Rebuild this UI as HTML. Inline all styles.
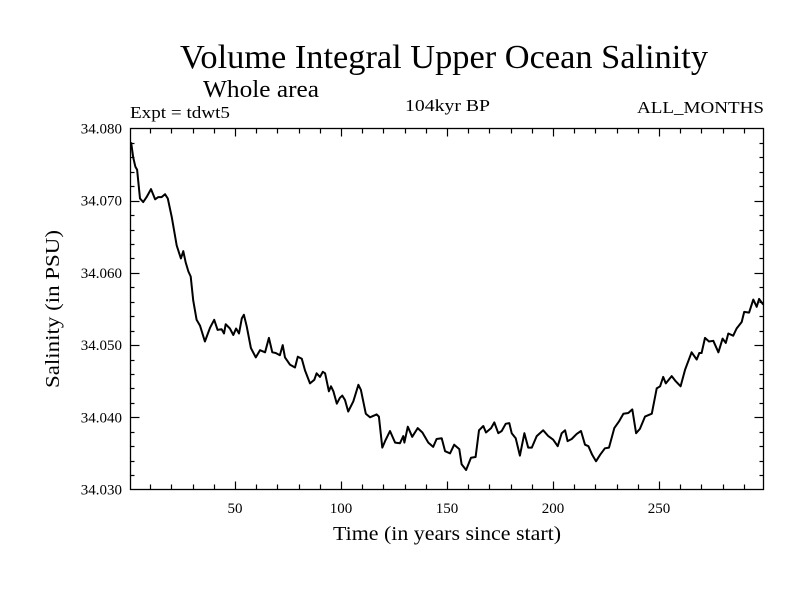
<!DOCTYPE html>
<html><head><meta charset="utf-8"><style>
body{margin:0;background:#fff}
svg text{font-family:"Liberation Serif",serif;fill:#000}
</style></head><body>
<svg id="chart" width="800" height="600" xmlns="http://www.w3.org/2000/svg">
<rect width="800" height="600" fill="#fff"/>
<text x="180" y="68" font-size="34" textLength="528" lengthAdjust="spacingAndGlyphs">Volume Integral Upper Ocean Salinity</text>
<text x="203" y="97" font-size="24" textLength="116" lengthAdjust="spacingAndGlyphs">Whole area</text>
<text x="130" y="118" font-size="17" textLength="100" lengthAdjust="spacingAndGlyphs">Expt = tdwt5</text>
<text x="405" y="111" font-size="17" textLength="85" lengthAdjust="spacingAndGlyphs">104kyr BP</text>
<text x="637" y="113" font-size="17" textLength="127" lengthAdjust="spacingAndGlyphs">ALL_MONTHS</text>
<text x="333" y="540" font-size="20" textLength="228" lengthAdjust="spacingAndGlyphs">Time (in years since start)</text>
<text x="0" y="0" font-size="20" text-anchor="middle" textLength="158" lengthAdjust="spacingAndGlyphs" transform="translate(59,309) rotate(-90)">Salinity (in PSU)</text>
<g id="ticks"></g>
<g id="labels"></g>
<path id="line" fill="none" stroke="#000" stroke-width="2" stroke-linejoin="round"/>
<rect x="130.5" y="128.5" width="633" height="361" fill="none" stroke="#000" stroke-width="1.3"/>
</svg>
<script>
const years=[1,2,3,3.8,5.2,6.7,8.3,10.4,12.3,13.8,15.4,17,18.3,20.2,22.5,24.5,25.6,26.7,28,29.1,30.3,31.9,33.5,35.8,38.2,40.2,41.8,43.7,44.8,45.6,47.6,49.2,50.5,51.9,53.2,54.2,55.5,57.5,59.8,61.8,64.2,66,67.6,69.2,71.2,72.5,73.6,75.9,78.3,79.6,81.5,83,85.4,87.4,88.5,90.1,91.4,92.5,94.3,95.3,96.4,98,99.5,100.6,101.9,103.4,105.8,108.2,109.4,111.7,113.7,116.8,117.9,119.5,120.8,123.1,125.5,127.8,129.4,129.9,131.5,133.6,136.2,138.4,141.2,143.5,145.1,147.5,149.1,151.4,153.4,155.8,156.9,159,161.3,163.5,165.1,167.1,168.4,170.8,172.3,174.2,175.8,177.7,179.4,180.5,182.4,184.4,186.5,188.3,190,192.3,195.4,197.8,200.1,202.2,204.1,205.7,206.9,208.8,211.2,213.2,215.1,216.7,218.5,220.3,222.2,224.5,226.4,228.9,231.1,233.2,235.5,237.4,239.2,241,243.4,246.6,248.9,250.5,252,253.2,256,257.9,260.2,262.3,265.4,267.8,269,270.1,271.7,273.6,275.6,278,280,281.5,282.7,285,286.6,289,290.2,292.5,294.5,296.1,297.2,299.2];
const salinity=[34.0781,34.0760,34.0747,34.0743,34.0703,34.0698,34.0705,34.0716,34.0702,34.0705,34.0705,34.0709,34.0703,34.0677,34.0638,34.0620,34.0630,34.0615,34.0602,34.0595,34.0562,34.0535,34.0527,34.0505,34.0524,34.0535,34.0521,34.0522,34.0516,34.0529,34.0523,34.0514,34.0523,34.0516,34.0537,34.0542,34.0526,34.0496,34.0483,34.0493,34.0490,34.0510,34.0490,34.0489,34.0486,34.0500,34.0483,34.0473,34.0469,34.0484,34.0481,34.0465,34.0447,34.0452,34.0461,34.0456,34.0463,34.0461,34.0436,34.0443,34.0436,34.0419,34.0427,34.0430,34.0424,34.0408,34.0422,34.0445,34.0438,34.0405,34.0400,34.0404,34.0401,34.0358,34.0367,34.0381,34.0365,34.0364,34.0374,34.0365,34.0387,34.0373,34.0385,34.0379,34.0365,34.0359,34.0370,34.0371,34.0353,34.0350,34.0362,34.0356,34.0335,34.0327,34.0344,34.0345,34.0382,34.0388,34.0379,34.0385,34.0393,34.0378,34.0381,34.0391,34.0392,34.0378,34.0371,34.0347,34.0378,34.0358,34.0358,34.0374,34.0382,34.0374,34.0369,34.0360,34.0378,34.0382,34.0367,34.0370,34.0377,34.0381,34.0362,34.0360,34.0348,34.0339,34.0348,34.0357,34.0358,34.0385,34.0394,34.0405,34.0406,34.0411,34.0378,34.0384,34.0401,34.0405,34.0440,34.0443,34.0456,34.0447,34.0457,34.0450,34.0443,34.0466,34.0490,34.0480,34.0489,34.0489,34.0510,34.0505,34.0506,34.0490,34.0509,34.0503,34.0516,34.0513,34.0523,34.0532,34.0546,34.0545,34.0563,34.0553,34.0564,34.0556];
const xTickLabels=[50,100,150,200,250];
const yTickLabels=["34.030","34.040","34.050","34.060","34.070","34.080"];
const NS="http://www.w3.org/2000/svg";
const X0=130.5,X1=763.5,Y0=489.5,Y1=128.5;
function xs(v){return 235+(v-50)*2.12;}
function ys(v){return Y0-(v-34.030)/0.050*(Y0-Y1);}
const tg=document.getElementById('ticks'),lg=document.getElementById('labels');
function ln(x1,y1,x2,y2,name){const l=document.createElementNS(NS,'line');l.setAttribute('x1',x1);l.setAttribute('y1',y1);l.setAttribute('x2',x2);l.setAttribute('y2',y2);l.setAttribute('stroke','#000');l.setAttribute('stroke-width','1.2');


tg.appendChild(l);}
for(let t=10;t<300;t+=10){const x=Math.round(xs(t))+0.5,len=t%50===0?8:5;ln(x,Y0,x,Y0-len,'x-tick');ln(x,Y1,x,Y1+len,'x-tick-top');}
for(let i=1;i<25;i++){const v=34.030+i*0.002,y=Math.round(ys(v))+0.5,len=i%5===0?9:4;ln(X0,y,X0+len,y,'y-tick');ln(X1,y,X1-len,y,'y-tick-right');}
xTickLabels.forEach(t=>{const e=document.createElementNS(NS,'text');e.setAttribute('x',xs(t));e.setAttribute('y',513);e.setAttribute('font-size','15');e.setAttribute('text-anchor','middle');e.textContent=t;


lg.appendChild(e);});
yTickLabels.forEach(t=>{const e=document.createElementNS(NS,'text');e.setAttribute('x',122);e.setAttribute('y',ys(parseFloat(t))+5);e.setAttribute('font-size','15');e.setAttribute('text-anchor','end');e.textContent=t;


lg.appendChild(e);});
let d='';years.forEach((yr,i)=>{d+=(i?'L':'M')+xs(yr).toFixed(1)+' '+ys(salinity[i]).toFixed(1);});
document.getElementById('line').setAttribute('d',d);
</script>
</body></html>
